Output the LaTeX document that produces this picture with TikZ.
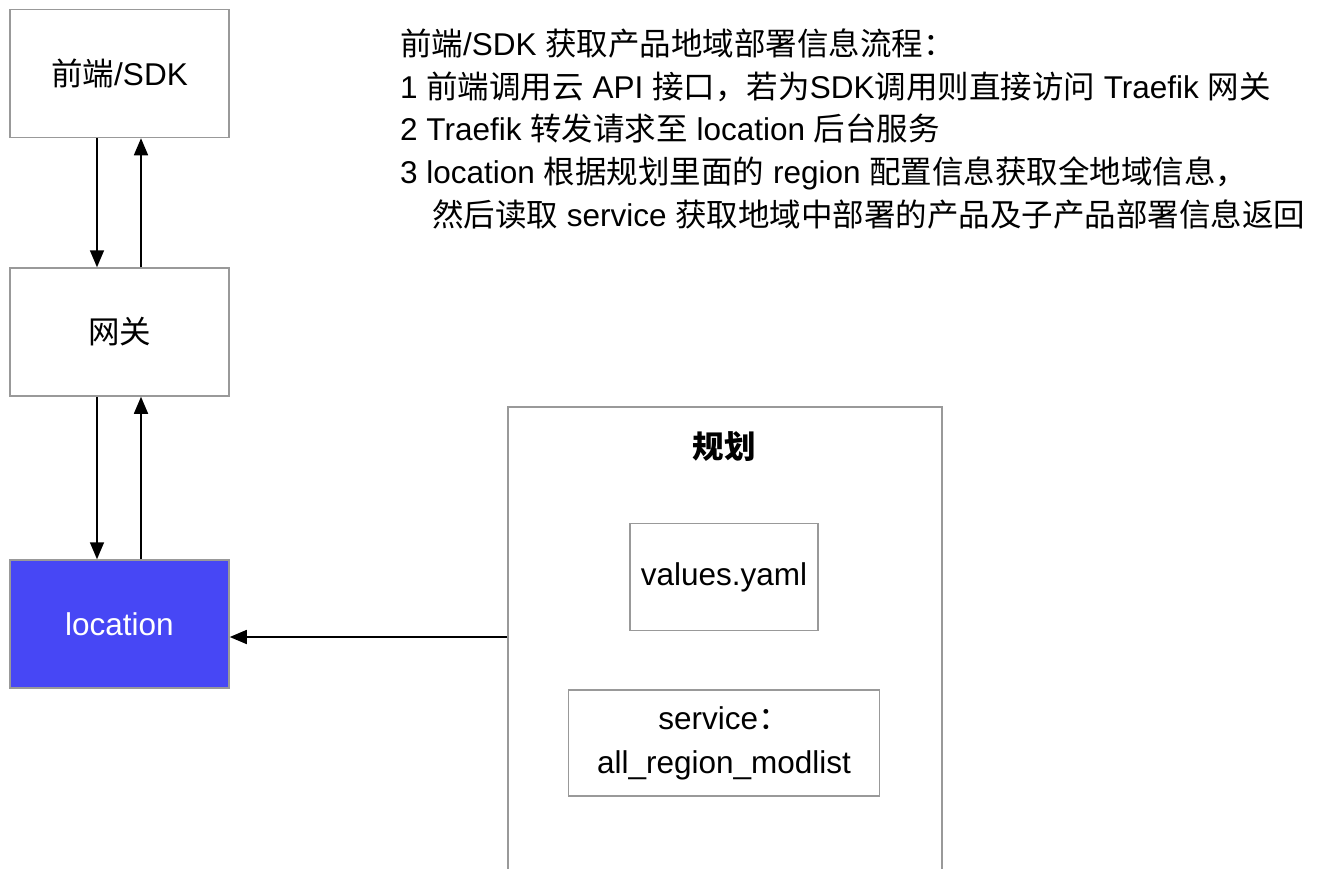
\documentclass[tikz,border=0pt]{standalone}
\usepackage{fontspec}
\setmainfont{Liberation Sans}
\newfontfamily\cjk{Noto Sans CJK SC}
\newcommand{\zh}[1]{{\cjk #1}}
\usetikzlibrary{arrows.meta}
\definecolor{boxgray}{RGB}{153,153,153}
\definecolor{locblue}{RGB}{71,71,245}
\begin{document}
\begin{tikzpicture}[x=1pt,y=-1pt,
  box/.style={draw=boxgray,line width=1.5pt,inner sep=0pt,fill=white,
    font=\fontsize{31.5}{44}\selectfont,align=center},
  arr/.style={line width=1.6pt,-{Triangle[length=17pt,width=14pt]}},
  txt/.style={anchor=base west,inner sep=0pt,font=\fontsize{31.5}{42}\selectfont}]
\useasboundingbox (0,0) rectangle (1320,868);
\clip (0,0) rectangle (1320,868);
\fill[white] (0,0) rectangle (1320,868);
% left column
\node[box,minimum width=219pt,minimum height=128pt] (sdk) at (119.5,73.5) {\zh{前端}/SDK};
\node[box,minimum width=219pt,minimum height=128pt] (gw) at (119.5,332) {\zh{网关}};
\node[box,minimum width=219pt,minimum height=128pt,fill=locblue,text=white] (loc) at (119.5,624) {location};
% plan box
\node[box,minimum width=434pt,minimum height=500pt,anchor=north west] (plan) at (507,406) {};
\node[inner sep=0pt,font=\fontsize{31.5}{42}\selectfont] (plantitle) at (724,447) {\zh{\bfseries 规划}};
\node[box,minimum width=188pt,minimum height=107pt] (values) at (724,577) {values.yaml};
\node[box,minimum width=311pt,minimum height=106pt] (svc) at (724,743) {service\zh{：}\\all\_region\_modlist};
% arrows
\draw[arr] ([xshift=-22.5pt]sdk.south) -- ([xshift=-22.5pt]gw.north);
\draw[arr] ([xshift=21.5pt]gw.north) -- ([xshift=21.5pt]sdk.south);
\draw[arr] ([xshift=-22.5pt]gw.south) -- ([xshift=-22.5pt]loc.north);
\draw[arr] ([xshift=21.5pt]loc.north) -- ([xshift=21.5pt]gw.south);
\path ([yshift=-13pt]loc.east) coordinate (lin);
\draw[arr] (plan.west |- lin) -- (lin);
% description text
\node[txt] (t1) at (400,55) {\zh{前端}/SDK \zh{获取产品地域部署信息流程：}};
\node[txt] (t2) at (400,98) {1 \zh{前端调用云} API \zh{接口，若为}SDK\zh{调用则直接访问} Traefik \zh{网关}};
\node[txt] (t3) at (400,140) {2 Traefik \zh{转发请求至} location \zh{后台服务}};
\node[txt] (t4) at (400,183) {3 location \zh{根据规划里面的} region \zh{配置信息获取全地域信息，}};
\node[txt] (t5) at (432,226) {\zh{然后读取} service \zh{获取地域中部署的产品及子产品部署信息返回}};
\end{tikzpicture}
\end{document}
